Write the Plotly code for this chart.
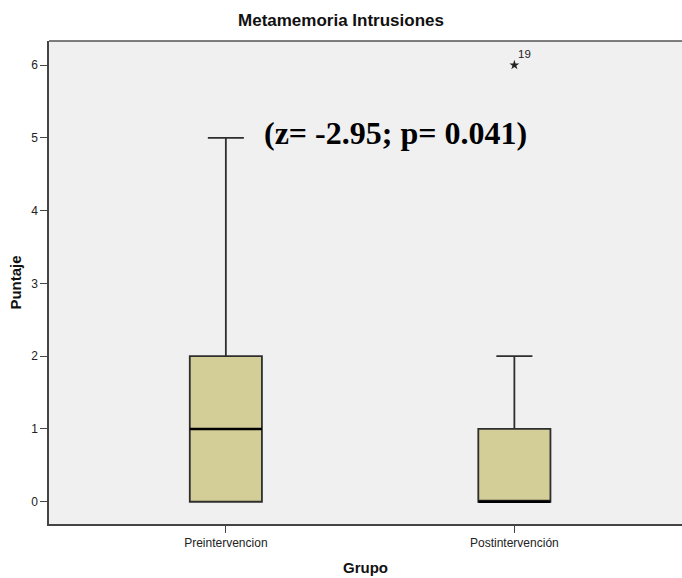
import plotly.graph_objects as go

# Box summary statistics per group
groups = ["Preintervencion", "Postintervención"]
q1 = [0, 0]
medians = [1, 0]
q3 = [2, 1]
lower_whisker = [0, 0]
upper_whisker = [5, 2]

# Extreme value (starred) with its case number
outlier_group = ["Postintervención"]
outlier_value = [6]
outlier_case = ["19"]

y_ticks = [0, 1, 2, 3, 4, 5, 6]

BOX_W = 0.25
fig = go.Figure()

fig.add_trace(go.Box(
    x=groups, q1=q1, median=medians, q3=q3,
    lowerfence=lower_whisker, upperfence=upper_whisker,
    width=BOX_W, whiskerwidth=0.5,
    fillcolor="#d3ce98", line=dict(color="#2e2e2e", width=1.8),
    boxpoints=False, hoverinfo="skip", showlegend=False,
))

# Thick black median bars
for i, m in enumerate(medians):
    fig.add_trace(go.Scatter(
        x=[i - BOX_W / 2, i + BOX_W / 2], y=[m, m], xaxis="x2",
        mode="lines", line=dict(color="#000000", width=2.6),
        hoverinfo="skip", showlegend=False,
    ))

fig.add_trace(go.Scatter(
    x=outlier_group, y=outlier_value, mode="markers",
    marker=dict(symbol="star", size=7.5, color="#222222"),
    hoverinfo="skip", showlegend=False,
))
for g, v, c in zip(outlier_group, outlier_value, outlier_case):
    fig.add_annotation(x=g, y=v, text=c, showarrow=False,
                       xshift=10, yshift=11,
                       font=dict(family="Arial, Liberation Sans", size=11.5, color="#222222"))

fig.add_annotation(
    x=0.589, y=5.06, xref="x2", yref="y",
    text="<b>(z= -2.95; p= 0.041)</b>", showarrow=False,
    font=dict(family="Liberation Serif, Times New Roman, serif", size=32, color="#000000"),
)

XR = [-0.613, 1.581]
fig.update_layout(
    width=682, height=578,
    margin=dict(l=49, r=0, t=41, b=54),
    paper_bgcolor="#ffffff", plot_bgcolor="#f0f0f0",
    title=dict(text="<b>Metamemoria Intrusiones</b>", x=0.5, xanchor="center",
               y=1 - 20 / 578, yanchor="middle",
               font=dict(family="Arial, Liberation Sans", size=17, color="#111111")),
    xaxis=dict(
        type="category", categoryarray=groups, range=XR,
        showline=True, linecolor="#444444", linewidth=1.5, mirror=False,
        ticks="outside", ticklen=7, tickcolor="#444444", tickwidth=1.3,
        showgrid=False, zeroline=False,
        tickfont=dict(family="Arial, Liberation Sans", size=12, color="#222222"),
        title=dict(text="<b>Grupo</b>", standoff=13,
                   font=dict(family="Arial, Liberation Sans", size=15, color="#111111")),
    ),
    xaxis2=dict(range=XR, overlaying="x", visible=False),
    yaxis=dict(
        range=[-0.306, 6.33], tickvals=y_ticks,
        showline=True, linecolor="#444444", linewidth=1.5,
        ticks="outside", ticklen=7, tickcolor="#444444", tickwidth=1.3,
        showgrid=False, zeroline=False,
        tickfont=dict(family="Arial, Liberation Sans", size=12, color="#222222"),
        title=dict(text="<b>Puntaje</b>", standoff=6,
                   font=dict(family="Arial, Liberation Sans", size=15, color="#111111")),
    ),
    shapes=[dict(type="line", xref="paper", yref="paper", x0=0, x1=1, y0=1, y1=1,
                 line=dict(color="#555555", width=1.5))],
)

fig.write_html("out.html")
